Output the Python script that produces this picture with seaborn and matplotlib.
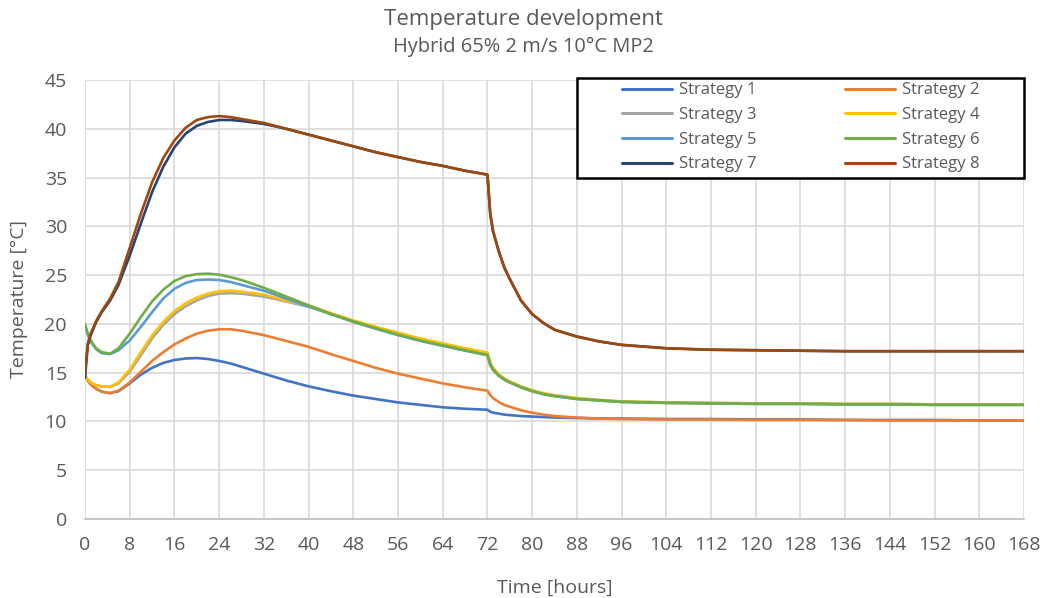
import numpy as np
import pandas as pd
import matplotlib
matplotlib.use("Agg")
import matplotlib.pyplot as plt
from matplotlib.patches import Rectangle
import seaborn as sns

time_h = [0, 0.5, 1, 2, 3, 4.5, 6, 8, 10, 12, 14, 16, 18, 20, 22, 24, 26, 28, 32, 36,
          40, 44, 48, 52, 56, 60, 64, 68, 72, 72.5, 73, 74, 75, 76, 78, 80, 82, 84, 88, 92,
          96, 104, 112, 120, 128, 136, 144, 152, 160, 168]

s1 = [14.7, 14.2, 13.8, 13.35, 13.05, 12.9, 13.1, 13.9, 14.8, 15.5, 16.0, 16.3, 16.45, 16.5, 16.4, 16.2, 15.95, 15.6, 14.9, 14.2,
      13.6, 13.1, 12.65, 12.3, 11.95, 11.7, 11.45, 11.3, 11.2, 11.0, 10.9, 10.8, 10.7, 10.65, 10.55, 10.5, 10.45, 10.4, 10.35, 10.3,
      10.3, 10.25, 10.25, 10.2, 10.2, 10.15, 10.15, 10.15, 10.1, 10.1]
s2 = [14.7, 14.2, 13.8, 13.35, 13.05, 12.9, 13.15, 14.0, 15.1, 16.2, 17.1, 17.9, 18.5, 19.0, 19.3, 19.45, 19.45, 19.3, 18.85, 18.25,
      17.65, 16.9, 16.2, 15.5, 14.9, 14.4, 13.9, 13.5, 13.15, 12.7, 12.4, 12.0, 11.7, 11.5, 11.15, 10.9, 10.7, 10.55, 10.4, 10.3,
      10.25, 10.2, 10.2, 10.15, 10.15, 10.15, 10.1, 10.1, 10.1, 10.1]
s3 = [14.7, 14.3, 14.0, 13.7, 13.6, 13.55, 13.9, 15.1, 16.8, 18.5, 19.9, 21.0, 21.8, 22.4, 22.85, 23.1, 23.15, 23.1, 22.8, 22.3,
      21.75, 21.05, 20.3, 19.65, 19.05, 18.45, 17.95, 17.45, 17.0, 16.0, 15.45, 14.8, 14.35, 14.05, 13.55, 13.15, 12.85, 12.65, 12.35, 12.2,
      12.05, 11.95, 11.9, 11.85, 11.85, 11.8, 11.8, 11.75, 11.75, 11.75]
s4 = [14.7, 14.3, 14.0, 13.7, 13.6, 13.55, 14.0, 15.3, 17.1, 18.8, 20.2, 21.3, 22.1, 22.7, 23.1, 23.35, 23.4, 23.3, 23.0, 22.4,
      21.9, 21.1, 20.35, 19.7, 19.1, 18.5, 18.0, 17.5, 17.05, 16.05, 15.5, 14.85, 14.4, 14.1, 13.6, 13.2, 12.9, 12.7, 12.4, 12.2,
      12.05, 11.95, 11.9, 11.85, 11.85, 11.8, 11.8, 11.75, 11.75, 11.75]
s5 = [19.8, 18.9, 18.2, 17.4, 17.0, 16.9, 17.3, 18.3, 19.7, 21.2, 22.6, 23.6, 24.2, 24.5, 24.55, 24.5, 24.3, 24.0, 23.4, 22.6,
      21.8, 21.0, 20.2, 19.5, 18.85, 18.25, 17.75, 17.25, 16.8, 15.8, 15.3, 14.7, 14.3, 14.0, 13.5, 13.1, 12.8, 12.6, 12.3, 12.15,
      12.0, 11.9, 11.85, 11.8, 11.8, 11.75, 11.75, 11.7, 11.7, 11.7]
s6 = [20.0, 19.0, 18.3, 17.5, 17.1, 16.95, 17.5, 19.0, 20.7, 22.3, 23.5, 24.4, 24.9, 25.1, 25.15, 25.05, 24.8, 24.5, 23.7, 22.8,
      21.9, 21.0, 20.25, 19.55, 18.9, 18.3, 17.8, 17.3, 16.8, 15.8, 15.3, 14.7, 14.3, 14.0, 13.5, 13.1, 12.8, 12.6, 12.3, 12.15,
      12.0, 11.9, 11.85, 11.8, 11.8, 11.75, 11.75, 11.7, 11.7, 11.7]
s7 = [14.5, 17.8, 18.8, 20.2, 21.2, 22.4, 24.0, 27.0, 30.3, 33.5, 36.1, 38.1, 39.5, 40.3, 40.7, 40.9, 40.9, 40.8, 40.5, 40.0,
      39.4, 38.8, 38.2, 37.6, 37.1, 36.6, 36.2, 35.7, 35.3, 31.3, 29.5, 27.5, 25.8, 24.6, 22.4, 21.0, 20.1, 19.4, 18.7, 18.2,
      17.85, 17.5, 17.35, 17.3, 17.25, 17.2, 17.2, 17.2, 17.2, 17.2]
s8 = [15.0, 18.0, 19.0, 20.3, 21.3, 22.6, 24.3, 27.8, 31.3, 34.5, 37.0, 38.8, 40.1, 40.9, 41.2, 41.3, 41.2, 41.0, 40.6, 40.0,
      39.4, 38.8, 38.2, 37.6, 37.1, 36.6, 36.2, 35.7, 35.3, 31.3, 29.5, 27.5, 25.8, 24.6, 22.4, 21.0, 20.1, 19.4, 18.7, 18.2,
      17.85, 17.5, 17.35, 17.3, 17.25, 17.2, 17.2, 17.2, 17.2, 17.2]

strategies = ["Strategy 1", "Strategy 2", "Strategy 3", "Strategy 4",
              "Strategy 5", "Strategy 6", "Strategy 7", "Strategy 8"]
series = [s1, s2, s3, s4, s5, s6, s7, s8]
colors = ["#4472C4", "#ED7D31", "#A5A5A5", "#FFC000",
          "#5B9BD5", "#70AD47", "#264478", "#9E480E"]
x_ticks = list(range(0, 169, 8))
y_ticks = list(range(0, 46, 5))

frames = []
for name, vals in zip(strategies, series):
    frames.append(pd.DataFrame({"Time": time_h, "Temp": vals, "Strategy": name}))
df = pd.concat(frames, ignore_index=True)

sns.set_theme(style="white")
plt.rcParams["font.family"] = ["Open Sans", "DejaVu Sans"]
txt = "#595959"

fig = plt.figure(figsize=(10.46, 5.98), dpi=100)
ax = fig.add_axes([85 / 1046, 1 - 519 / 598, (1024 - 85) / 1046, (519 - 80) / 598])

sns.lineplot(data=df, x="Time", y="Temp", hue="Strategy", hue_order=strategies,
             palette=colors, sort=False, linewidth=1.9, ax=ax, legend=True)

ax.set_xlim(0, 168)
ax.set_ylim(0, 45)
ax.set_xticks(x_ticks)
ax.set_yticks(y_ticks)
ax.grid(True, color="#d9d9d9", linewidth=1.2)
ax.set_axisbelow(True)
for s in ["top", "right", "left"]:
    ax.spines[s].set_visible(False)
ax.spines["bottom"].set_color("#bfbfbf")
ax.spines["bottom"].set_linewidth(1.2)
ax.tick_params(axis="both", length=0, labelsize=14, colors=txt)
ax.tick_params(axis="y", pad=13)
ax.tick_params(axis="x", pad=12)

ax.set_xlabel("Time [hours]", fontsize=14, color=txt, labelpad=18)
ax.set_ylabel("Temperature [°C]", fontsize=14, color=txt, labelpad=12)

fig.text(0.5, 1 - 19 / 598, "Temperature development", ha="center", va="center",
         fontsize=16, color=txt)
fig.text(0.5, 1 - 47 / 598, "Hybrid 65% 2 m/s 10°C MP2", ha="center", va="center",
         fontsize=14.4, color=txt)

handles, labels = ax.get_legend_handles_labels()
if ax.legend_ is not None:
    ax.legend_.remove()
order = [0, 2, 4, 6, 1, 3, 5, 7]
handles = [handles[i] for i in order]
labels = [labels[i] for i in order]

frame = Rectangle((577 / 1046, 1 - 178 / 598), 447 / 1046, 100 / 598,
                  transform=fig.transFigure, facecolor="white", edgecolor="black",
                  linewidth=1.8, zorder=4)
fig.patches.append(frame)

leg = fig.legend(handles, labels, ncol=2, loc="center",
                 bbox_to_anchor=(800.5 / 1046, 1 - 127.5 / 598),
                 frameon=False, fontsize=12,
                 handlelength=3.0, handletextpad=0.42, labelspacing=0.52,
                 columnspacing=5.3, borderpad=0, borderaxespad=0)
leg.set_zorder(5)
for t in leg.get_texts():
    t.set_color(txt)
for h in leg.legend_handles:
    h.set_linewidth(2.2)

fig.savefig("out.png", dpi=100)
